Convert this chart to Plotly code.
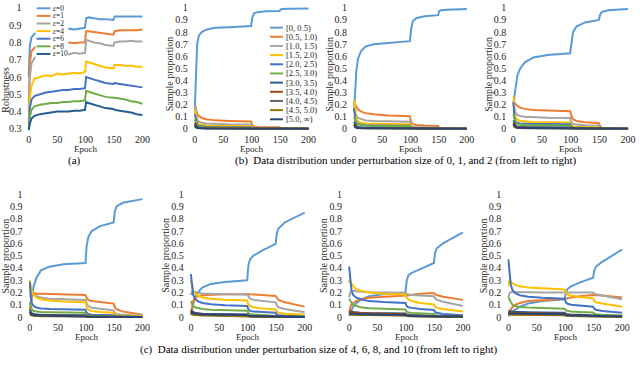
import plotly.graph_objects as go

W, H = 640, 365
FONT = "Liberation Serif"
INK = "#262626"

# Excel default palette, in series order
COLOURS = ["#5B9BD5", "#ED7D31", "#A5A5A5", "#FFC000", "#4472C4", "#70AD47",
           "#255E91", "#9E480E", "#636363", "#997300", "#264478"]

# -- (a) robustness per perturbation size --
ROB_EPOCH = [0, 2, 5, 10, 20, 30, 40, 50, 60, 70, 80, 90, 99, 101, 105, 115, 125, 135, 149, 151, 160, 170, 180, 190, 200]
ROB_LABELS = ["0", "1", "2", "4", "6", "8", "10"]
ROB_EPS0 = [0.60, 0.78, 0.83, 0.85, 0.86, 0.87, 0.865, 0.875, 0.87, 0.88, 0.875, 0.88, 0.885, 0.94, 0.945, 0.94, 0.935, 0.935, 0.93, 0.95, 0.95, 0.95, 0.95, 0.95, 0.95]
ROB_EPS1 = [0.45, 0.68, 0.75, 0.77, 0.78, 0.79, 0.79, 0.80, 0.79, 0.80, 0.795, 0.80, 0.80, 0.865, 0.865, 0.86, 0.855, 0.85, 0.845, 0.865, 0.87, 0.87, 0.87, 0.87, 0.875]
ROB_EPS2 = [0.40, 0.60, 0.68, 0.71, 0.72, 0.73, 0.725, 0.73, 0.735, 0.73, 0.74, 0.735, 0.74, 0.815, 0.81, 0.80, 0.795, 0.785, 0.78, 0.80, 0.805, 0.805, 0.81, 0.805, 0.805]
ROB_EPS4 = [0.32, 0.48, 0.55, 0.59, 0.60, 0.61, 0.605, 0.62, 0.615, 0.62, 0.625, 0.62, 0.63, 0.69, 0.685, 0.675, 0.665, 0.655, 0.65, 0.67, 0.67, 0.665, 0.665, 0.66, 0.66]
ROB_EPS6 = [0.30, 0.42, 0.47, 0.49, 0.50, 0.51, 0.515, 0.52, 0.525, 0.525, 0.53, 0.53, 0.535, 0.60, 0.595, 0.585, 0.575, 0.565, 0.56, 0.565, 0.56, 0.555, 0.55, 0.545, 0.54]
ROB_EPS8 = [0.29, 0.37, 0.41, 0.43, 0.44, 0.445, 0.45, 0.45, 0.455, 0.455, 0.46, 0.46, 0.465, 0.52, 0.515, 0.505, 0.495, 0.485, 0.48, 0.48, 0.475, 0.47, 0.46, 0.455, 0.445]
ROB_EPS10 = [0.29, 0.33, 0.36, 0.375, 0.385, 0.39, 0.395, 0.40, 0.40, 0.40, 0.405, 0.405, 0.41, 0.455, 0.45, 0.44, 0.43, 0.42, 0.415, 0.41, 0.405, 0.40, 0.395, 0.385, 0.38]

# -- (b), (c) sample proportion per perturbation-size bin --
DIST_EPOCH = [0, 1, 2, 4, 7, 12, 20, 35, 60, 99, 101, 104, 110, 125, 149, 151, 154, 165, 200]
BIN_LABELS = ["[0, 0.5)", "[0.5, 1.0)", "[1.0, 1.5)", "[1.5, 2.0)", "[2.0, 2.5)", "[2.5, 3.0)",
              "[3.0, 3.5)", "[3.5, 4.0)", "[4.0, 4.5)", "[4.5, 5.0)", "[5.0, ∞)"]

DIST_EPS0 = [
    [0.18, 0.35, 0.55, 0.70, 0.77, 0.80, 0.82, 0.835, 0.84, 0.85, 0.92, 0.955, 0.965, 0.972, 0.975, 0.988, 0.99, 0.993, 0.996],
    [0.15, 0.19, 0.16, 0.125, 0.105, 0.09, 0.08, 0.07, 0.065, 0.06, 0.03, 0.02, 0.016, 0.014, 0.013, 0.004, 0.003, 0.002, 0.001],
    [0.12, 0.19, 0.13, 0.08, 0.06, 0.05, 0.045, 0.04, 0.037, 0.035, 0.015, 0.009, 0.007, 0.006, 0.005, 0.002, 0.001, 0.001, 0.0],
    [0.16, 0.13, 0.09, 0.055, 0.04, 0.033, 0.028, 0.025, 0.023, 0.022, 0.008, 0.005, 0.004, 0.003, 0.003, 0.001, 0.001, 0.0, 0.0],
    [0.12, 0.09, 0.06, 0.035, 0.025, 0.02, 0.017, 0.015, 0.014, 0.013, 0.004, 0.003, 0.002, 0.002, 0.002, 0.0, 0.0, 0.0, 0.0],
    [0.08, 0.06, 0.04, 0.025, 0.018, 0.014, 0.012, 0.011, 0.01, 0.01, 0.003, 0.002, 0.002, 0.001, 0.001, 0.0, 0.0, 0.0, 0.0],
    [0.05, 0.04, 0.025, 0.015, 0.01, 0.008, 0.007, 0.006, 0.006, 0.005, 0.002, 0.001, 0.001, 0.001, 0.001, 0.0, 0.0, 0.0, 0.0],
    [0.04, 0.03, 0.02, 0.012, 0.008, 0.006, 0.005, 0.005, 0.004, 0.004, 0.001, 0.001, 0.0, 0.0, 0.0, 0.0, 0.0, 0.0, 0.0],
    [0.03, 0.02, 0.015, 0.009, 0.006, 0.005, 0.004, 0.004, 0.003, 0.003, 0.001, 0.0, 0.0, 0.0, 0.0, 0.0, 0.0, 0.0, 0.0],
    [0.02, 0.015, 0.01, 0.006, 0.004, 0.003, 0.003, 0.002, 0.002, 0.002, 0.001, 0.0, 0.0, 0.0, 0.0, 0.0, 0.0, 0.0, 0.0],
    [0.03, 0.02, 0.012, 0.008, 0.005, 0.004, 0.003, 0.003, 0.003, 0.003, 0.001, 0.0, 0.0, 0.0, 0.0, 0.0, 0.0, 0.0, 0.0],
]
DIST_EPS1 = [
    [0.15, 0.22, 0.32, 0.48, 0.58, 0.64, 0.68, 0.70, 0.71, 0.725, 0.82, 0.89, 0.915, 0.93, 0.94, 0.975, 0.98, 0.985, 0.99],
    [0.20, 0.21, 0.20, 0.18, 0.16, 0.145, 0.13, 0.12, 0.11, 0.105, 0.06, 0.04, 0.032, 0.027, 0.024, 0.008, 0.004, 0.002, 0.001],
    [0.18, 0.20, 0.15, 0.11, 0.09, 0.08, 0.07, 0.065, 0.06, 0.058, 0.03, 0.018, 0.015, 0.013, 0.012, 0.003, 0.002, 0.001, 0.0],
    [0.24, 0.20, 0.13, 0.08, 0.06, 0.05, 0.045, 0.042, 0.04, 0.038, 0.015, 0.009, 0.007, 0.006, 0.006, 0.002, 0.001, 0.0, 0.0],
    [0.17, 0.12, 0.08, 0.05, 0.04, 0.035, 0.03, 0.028, 0.026, 0.025, 0.008, 0.005, 0.004, 0.003, 0.003, 0.001, 0.0, 0.0, 0.0],
    [0.10, 0.08, 0.06, 0.04, 0.035, 0.03, 0.028, 0.026, 0.025, 0.024, 0.006, 0.004, 0.003, 0.003, 0.002, 0.001, 0.0, 0.0, 0.0],
    [0.06, 0.05, 0.035, 0.02, 0.015, 0.012, 0.01, 0.01, 0.009, 0.009, 0.003, 0.002, 0.001, 0.001, 0.001, 0.0, 0.0, 0.0, 0.0],
    [0.04, 0.035, 0.025, 0.015, 0.01, 0.008, 0.007, 0.006, 0.006, 0.006, 0.002, 0.001, 0.001, 0.0, 0.0, 0.0, 0.0, 0.0, 0.0],
    [0.03, 0.025, 0.018, 0.012, 0.008, 0.006, 0.005, 0.005, 0.005, 0.005, 0.001, 0.001, 0.0, 0.0, 0.0, 0.0, 0.0, 0.0, 0.0],
    [0.02, 0.015, 0.012, 0.008, 0.005, 0.004, 0.004, 0.003, 0.003, 0.003, 0.001, 0.0, 0.0, 0.0, 0.0, 0.0, 0.0, 0.0, 0.0],
    [0.03, 0.025, 0.015, 0.01, 0.007, 0.006, 0.005, 0.004, 0.004, 0.004, 0.001, 0.0, 0.0, 0.0, 0.0, 0.0, 0.0, 0.0, 0.0],
]
DIST_EPS2 = [
    [0.20, 0.22, 0.27, 0.36, 0.44, 0.50, 0.55, 0.59, 0.61, 0.625, 0.72, 0.80, 0.845, 0.88, 0.90, 0.94, 0.965, 0.98, 0.99],
    [0.20, 0.22, 0.215, 0.205, 0.19, 0.175, 0.165, 0.155, 0.15, 0.145, 0.11, 0.08, 0.065, 0.055, 0.048, 0.025, 0.01, 0.004, 0.002],
    [0.24, 0.22, 0.17, 0.13, 0.115, 0.105, 0.10, 0.095, 0.092, 0.09, 0.06, 0.04, 0.035, 0.03, 0.028, 0.012, 0.005, 0.002, 0.001],
    [0.27, 0.20, 0.13, 0.09, 0.075, 0.065, 0.06, 0.057, 0.055, 0.053, 0.03, 0.02, 0.017, 0.015, 0.014, 0.005, 0.002, 0.001, 0.0],
    [0.22, 0.15, 0.09, 0.06, 0.05, 0.045, 0.042, 0.04, 0.04, 0.038, 0.018, 0.01, 0.008, 0.007, 0.006, 0.002, 0.001, 0.0, 0.0],
    [0.12, 0.10, 0.07, 0.05, 0.04, 0.035, 0.03, 0.03, 0.028, 0.027, 0.012, 0.007, 0.005, 0.004, 0.004, 0.001, 0.0, 0.0, 0.0],
    [0.07, 0.06, 0.04, 0.025, 0.02, 0.017, 0.015, 0.014, 0.013, 0.012, 0.005, 0.003, 0.002, 0.002, 0.002, 0.0, 0.0, 0.0, 0.0],
    [0.05, 0.04, 0.03, 0.02, 0.015, 0.012, 0.01, 0.01, 0.009, 0.009, 0.004, 0.002, 0.002, 0.001, 0.001, 0.0, 0.0, 0.0, 0.0],
    [0.04, 0.03, 0.022, 0.015, 0.01, 0.008, 0.007, 0.007, 0.006, 0.006, 0.002, 0.001, 0.001, 0.001, 0.0, 0.0, 0.0, 0.0, 0.0],
    [0.03, 0.02, 0.015, 0.01, 0.007, 0.006, 0.005, 0.005, 0.005, 0.004, 0.002, 0.001, 0.0, 0.0, 0.0, 0.0, 0.0, 0.0, 0.0],
    [0.04, 0.03, 0.02, 0.014, 0.01, 0.008, 0.007, 0.006, 0.006, 0.006, 0.002, 0.001, 0.001, 0.0, 0.0, 0.0, 0.0, 0.0, 0.0],
]
DIST_EPS4 = [
    [0.05, 0.08, 0.12, 0.18, 0.25, 0.32, 0.38, 0.41, 0.43, 0.44, 0.58, 0.65, 0.70, 0.74, 0.77, 0.86, 0.90, 0.93, 0.96],
    [0.05, 0.10, 0.15, 0.19, 0.195, 0.19, 0.19, 0.188, 0.185, 0.18, 0.155, 0.14, 0.13, 0.12, 0.11, 0.08, 0.065, 0.045, 0.02],
    [0.22, 0.22, 0.21, 0.20, 0.185, 0.17, 0.16, 0.15, 0.145, 0.14, 0.11, 0.09, 0.075, 0.065, 0.055, 0.035, 0.025, 0.018, 0.01],
    [0.30, 0.28, 0.25, 0.21, 0.18, 0.16, 0.145, 0.135, 0.127, 0.12, 0.08, 0.06, 0.05, 0.042, 0.036, 0.02, 0.012, 0.008, 0.004],
    [0.29, 0.22, 0.16, 0.11, 0.09, 0.078, 0.07, 0.065, 0.062, 0.06, 0.035, 0.025, 0.02, 0.017, 0.015, 0.007, 0.004, 0.002, 0.001],
    [0.12, 0.10, 0.08, 0.06, 0.05, 0.045, 0.042, 0.04, 0.038, 0.036, 0.02, 0.013, 0.011, 0.009, 0.008, 0.003, 0.002, 0.001, 0.0],
    [0.06, 0.05, 0.04, 0.03, 0.025, 0.02, 0.018, 0.017, 0.016, 0.015, 0.008, 0.005, 0.004, 0.003, 0.003, 0.001, 0.0, 0.0, 0.0],
    [0.04, 0.035, 0.03, 0.022, 0.018, 0.015, 0.013, 0.012, 0.012, 0.011, 0.005, 0.003, 0.003, 0.002, 0.002, 0.001, 0.0, 0.0, 0.0],
    [0.03, 0.028, 0.022, 0.017, 0.013, 0.011, 0.01, 0.009, 0.009, 0.008, 0.004, 0.002, 0.002, 0.002, 0.001, 0.0, 0.0, 0.0, 0.0],
    [0.02, 0.02, 0.016, 0.012, 0.01, 0.008, 0.007, 0.007, 0.006, 0.006, 0.003, 0.002, 0.001, 0.001, 0.001, 0.0, 0.0, 0.0, 0.0],
    [0.04, 0.035, 0.028, 0.02, 0.016, 0.014, 0.012, 0.011, 0.011, 0.01, 0.005, 0.003, 0.003, 0.002, 0.002, 0.001, 0.0, 0.0, 0.0],
]
DIST_EPS6 = [
    [0.02, 0.04, 0.07, 0.12, 0.16, 0.20, 0.24, 0.27, 0.285, 0.30, 0.42, 0.47, 0.50, 0.54, 0.595, 0.68, 0.72, 0.77, 0.85],
    [0.02, 0.05, 0.09, 0.13, 0.155, 0.17, 0.178, 0.182, 0.185, 0.185, 0.188, 0.186, 0.183, 0.18, 0.172, 0.155, 0.14, 0.12, 0.085],
    [0.18, 0.20, 0.21, 0.21, 0.205, 0.198, 0.192, 0.188, 0.185, 0.183, 0.165, 0.15, 0.14, 0.13, 0.12, 0.095, 0.08, 0.065, 0.04],
    [0.30, 0.28, 0.26, 0.22, 0.195, 0.175, 0.16, 0.15, 0.142, 0.135, 0.105, 0.09, 0.08, 0.07, 0.062, 0.045, 0.035, 0.027, 0.018],
    [0.35, 0.30, 0.24, 0.18, 0.15, 0.13, 0.115, 0.105, 0.097, 0.09, 0.065, 0.05, 0.045, 0.04, 0.035, 0.022, 0.015, 0.01, 0.005],
    [0.13, 0.12, 0.11, 0.09, 0.08, 0.073, 0.066, 0.06, 0.056, 0.052, 0.035, 0.025, 0.021, 0.018, 0.015, 0.009, 0.006, 0.004, 0.002],
    [0.06, 0.055, 0.05, 0.042, 0.036, 0.032, 0.028, 0.026, 0.024, 0.022, 0.013, 0.009, 0.008, 0.007, 0.006, 0.003, 0.002, 0.001, 0.001],
    [0.05, 0.045, 0.04, 0.034, 0.029, 0.025, 0.022, 0.02, 0.019, 0.018, 0.01, 0.007, 0.006, 0.005, 0.005, 0.002, 0.001, 0.001, 0.0],
    [0.03, 0.03, 0.027, 0.023, 0.02, 0.018, 0.016, 0.015, 0.014, 0.013, 0.007, 0.005, 0.004, 0.004, 0.003, 0.002, 0.001, 0.0, 0.0],
    [0.025, 0.025, 0.022, 0.019, 0.016, 0.014, 0.013, 0.012, 0.011, 0.01, 0.006, 0.004, 0.003, 0.003, 0.003, 0.001, 0.001, 0.0, 0.0],
    [0.04, 0.04, 0.036, 0.03, 0.026, 0.023, 0.021, 0.019, 0.018, 0.017, 0.01, 0.007, 0.006, 0.005, 0.005, 0.002, 0.001, 0.001, 0.0],
]
DIST_EPS8 = [
    [0.01, 0.02, 0.035, 0.06, 0.085, 0.11, 0.14, 0.17, 0.185, 0.20, 0.29, 0.34, 0.36, 0.39, 0.44, 0.52, 0.56, 0.60, 0.69],
    [0.03, 0.06, 0.08, 0.10, 0.115, 0.13, 0.145, 0.158, 0.165, 0.17, 0.175, 0.178, 0.182, 0.19, 0.195, 0.19, 0.18, 0.165, 0.14],
    [0.16, 0.18, 0.20, 0.21, 0.215, 0.21, 0.207, 0.203, 0.20, 0.198, 0.19, 0.183, 0.18, 0.175, 0.17, 0.155, 0.14, 0.125, 0.09],
    [0.28, 0.30, 0.29, 0.27, 0.25, 0.23, 0.215, 0.20, 0.19, 0.183, 0.16, 0.145, 0.13, 0.115, 0.102, 0.085, 0.075, 0.065, 0.045],
    [0.41, 0.36, 0.30, 0.22, 0.18, 0.16, 0.145, 0.13, 0.122, 0.115, 0.09, 0.08, 0.075, 0.066, 0.058, 0.042, 0.035, 0.026, 0.015],
    [0.15, 0.14, 0.13, 0.115, 0.10, 0.09, 0.08, 0.072, 0.066, 0.062, 0.045, 0.038, 0.034, 0.03, 0.026, 0.018, 0.013, 0.01, 0.006],
    [0.05, 0.05, 0.048, 0.045, 0.042, 0.039, 0.036, 0.033, 0.031, 0.03, 0.02, 0.016, 0.014, 0.012, 0.011, 0.007, 0.005, 0.004, 0.003],
    [0.045, 0.045, 0.043, 0.04, 0.037, 0.034, 0.031, 0.029, 0.027, 0.026, 0.017, 0.013, 0.012, 0.01, 0.009, 0.006, 0.004, 0.003, 0.002],
    [0.03, 0.03, 0.029, 0.027, 0.025, 0.023, 0.021, 0.02, 0.019, 0.018, 0.012, 0.009, 0.008, 0.007, 0.006, 0.004, 0.003, 0.002, 0.001],
    [0.02, 0.02, 0.02, 0.019, 0.018, 0.017, 0.016, 0.015, 0.014, 0.013, 0.009, 0.007, 0.006, 0.005, 0.005, 0.003, 0.002, 0.002, 0.001],
    [0.03, 0.03, 0.03, 0.029, 0.027, 0.025, 0.023, 0.021, 0.02, 0.019, 0.013, 0.01, 0.009, 0.008, 0.007, 0.005, 0.003, 0.002, 0.002],
]
DIST_EPS10 = [
    [0.01, 0.01, 0.02, 0.03, 0.045, 0.06, 0.085, 0.11, 0.13, 0.145, 0.20, 0.23, 0.25, 0.28, 0.32, 0.38, 0.41, 0.45, 0.55],
    [0.02, 0.03, 0.045, 0.06, 0.08, 0.10, 0.115, 0.13, 0.138, 0.145, 0.15, 0.155, 0.16, 0.17, 0.18, 0.18, 0.18, 0.175, 0.16],
    [0.16, 0.18, 0.195, 0.20, 0.205, 0.205, 0.203, 0.202, 0.20, 0.20, 0.202, 0.205, 0.205, 0.204, 0.20, 0.19, 0.185, 0.175, 0.145],
    [0.25, 0.29, 0.305, 0.29, 0.275, 0.262, 0.25, 0.24, 0.233, 0.225, 0.20, 0.182, 0.175, 0.163, 0.152, 0.13, 0.12, 0.11, 0.085],
    [0.47, 0.42, 0.35, 0.27, 0.22, 0.195, 0.178, 0.165, 0.157, 0.15, 0.12, 0.108, 0.10, 0.092, 0.085, 0.068, 0.06, 0.05, 0.035],
    [0.16, 0.15, 0.14, 0.12, 0.10, 0.09, 0.083, 0.077, 0.072, 0.068, 0.055, 0.05, 0.046, 0.042, 0.038, 0.028, 0.023, 0.019, 0.013],
    [0.05, 0.05, 0.049, 0.047, 0.045, 0.043, 0.041, 0.039, 0.037, 0.035, 0.026, 0.022, 0.02, 0.018, 0.016, 0.012, 0.01, 0.008, 0.006],
    [0.04, 0.04, 0.04, 0.039, 0.037, 0.035, 0.033, 0.031, 0.03, 0.028, 0.021, 0.018, 0.016, 0.014, 0.013, 0.01, 0.008, 0.006, 0.005],
    [0.03, 0.03, 0.03, 0.029, 0.028, 0.027, 0.026, 0.024, 0.023, 0.022, 0.016, 0.013, 0.012, 0.011, 0.01, 0.007, 0.006, 0.005, 0.004],
    [0.02, 0.02, 0.02, 0.02, 0.019, 0.018, 0.017, 0.016, 0.015, 0.015, 0.011, 0.009, 0.008, 0.007, 0.007, 0.005, 0.004, 0.003, 0.003],
    [0.03, 0.03, 0.03, 0.03, 0.029, 0.028, 0.027, 0.026, 0.025, 0.024, 0.017, 0.014, 0.013, 0.012, 0.011, 0.008, 0.006, 0.005, 0.004],
]


def x_domain(px0, px200):
    """Paper domain so that epoch 0 and 200 sit at the given pixels (range -2..202)."""
    s = (px200 - px0) / 200
    return [(px0 - 2 * s) / W, (px200 + 2 * s) / W]


def y_domain(py_lo, py_hi, lo, hi, pad):
    s = (py_lo - py_hi) / (hi - lo)
    bottom = py_lo + pad * s
    top = py_hi - pad * s
    return [1 - bottom / H, 1 - top / H]


def label(v):
    txt = f"{v:.1f}".rstrip("0").rstrip(".")
    return txt or "0"


def note(text, px, py, size=10, colour=INK, **kw):
    """Annotation placed by pixel position (centre) on the 640x365 page."""
    d = dict(text=text, x=px / W, y=1 - py / H, xref="paper", yref="paper",
             xanchor="center", yanchor="middle", showarrow=False, borderpad=0,
             font=dict(family=FONT, size=size, color=colour))
    d.update(kw)
    return d


# panel: (series, x px of 0, x px of 200, y px of lo, y px of 1, lo, y-title x, y-title y, title)
PANELS = [
    ("rob", 28, 143, 128, 4, 0.3, 5, 88, "Robustness"),
    (DIST_EPS0, 196, 311, 128, 4, 0.0, 170, 72, "Sample proportion"),
    (DIST_EPS1, 357, 471, 128, 4, 0.0, 332, 72, "Sample proportion"),
    (DIST_EPS2, 518, 634, 128, 4, 0.0, 493, 72, "Sample proportion"),
    (DIST_EPS4, 29, 143, 321, 195, 0.0, 5, 258, "Sample proportion"),
    (DIST_EPS6, 192, 307, 321, 195, 0.0, 166, 258, "Sample proportion"),
    (DIST_EPS8, 352, 467, 321, 195, 0.0, 326, 258, "Sample proportion"),
    (DIST_EPS10, 513, 628, 321, 195, 0.0, 488, 258, "Sample proportion"),
]

fig = go.Figure()
annotations = []
shapes = []
tick_font = dict(family=FONT, size=10, color=INK)

for i, (series, px0, px200, py_lo, py_hi, lo, tx, ty, ytitle) in enumerate(PANELS, start=1):
    xa, ya = f"x{i}", f"y{i}"
    if series == "rob":
        rob = [ROB_EPS0, ROB_EPS1, ROB_EPS2, ROB_EPS4, ROB_EPS6, ROB_EPS8, ROB_EPS10]
        for k, ys in enumerate(rob):
            fig.add_trace(go.Scatter(x=ROB_EPOCH, y=ys, mode="lines", xaxis=xa, yaxis=ya,
                                     line=dict(color=COLOURS[k], width=2), showlegend=False))
    else:
        for k, ys in enumerate(series):
            fig.add_trace(go.Scatter(x=DIST_EPOCH, y=ys, mode="lines", xaxis=xa, yaxis=ya,
                                     line=dict(color=COLOURS[k], width=2), showlegend=False))

    pad = 0.008
    n_ticks = int(round((1 - lo) * 10)) + 1
    yvals = [round(lo + 0.1 * j, 1) for j in range(n_ticks)]
    suffix = "" if i == 1 else str(i)
    fig.layout["xaxis" + suffix] = dict(
        domain=x_domain(px0, px200), range=[-2, 202], anchor=ya,
        tickvals=[0, 50, 100, 150, 200], showgrid=False, zeroline=False,
        showline=False, ticks="", tickfont=tick_font, ticklabelstandoff=2,
    )
    fig.layout["yaxis" + suffix] = dict(
        domain=y_domain(py_lo, py_hi, lo, 1.0, pad), range=[lo - pad, 1.0 + pad], anchor=xa,
        tickvals=yvals, ticktext=[label(v) for v in yvals],
        showgrid=False, zeroline=False, showline=False, ticks="",
        tickfont=tick_font, ticklabelstandoff=5,
    )
    annotations.append(note(ytitle, tx, ty, textangle=-90))
    annotations.append(note("Epoch", (px0 + px200) / 2, 148.5 if py_lo < 200 else 341, size=9))


def add_legend(labels, colours, left, top, step, line_len, box_w, size):
    shapes.append(dict(type="rect", xref="paper", yref="paper", x0=left / W, x1=(left + box_w) / W,
                       y0=1 - (top + step * len(labels) + 1) / H, y1=1 - top / H,
                       fillcolor="white", line=dict(width=0), layer="above"))
    for k, lab in enumerate(labels):
        yc = top + step * (k + 0.5)
        shapes.append(dict(type="line", xref="paper", yref="paper", x0=(left + 1) / W,
                           x1=(left + 1 + line_len) / W, y0=1 - yc / H, y1=1 - yc / H,
                           line=dict(color=colours[k], width=2), layer="above"))
        annotations.append(note(lab, left + line_len + 3, yc, size=size, xanchor="left"))


add_legend([f"<i>ε</i>={v}" for v in ROB_LABELS], COLOURS, 35, 0.5, 7.8, 14, 33, 7.5)
add_legend(BIN_LABELS, COLOURS, 271, 19.5, 9.4, 13, 41, 8.5)

annotations.append(note("(a)", 74, 160.5, size=11, colour="black"))
annotations.append(note("(b)  Data distribution under perturbation size of 0, 1, and 2 (from left to right)",
                        409, 160.5, size=11, colour="black"))
annotations.append(note("(c)  Data distribution under perturbation size of 4, 6, 8, and 10 (from left to right)",
                        321, 354, size=11, colour="black"))

fig.update_layout(
    width=W, height=H, margin=dict(l=0, r=0, t=0, b=0),
    paper_bgcolor="white", plot_bgcolor="white",
    font=dict(family=FONT, color=INK),
    annotations=annotations, shapes=shapes, showlegend=False,
)

# the page's default 8px body margin would shift the whole figure
fig.write_html("out.html", config={"displayModeBar": False},
               post_script="document.body.style.margin='0px';")
